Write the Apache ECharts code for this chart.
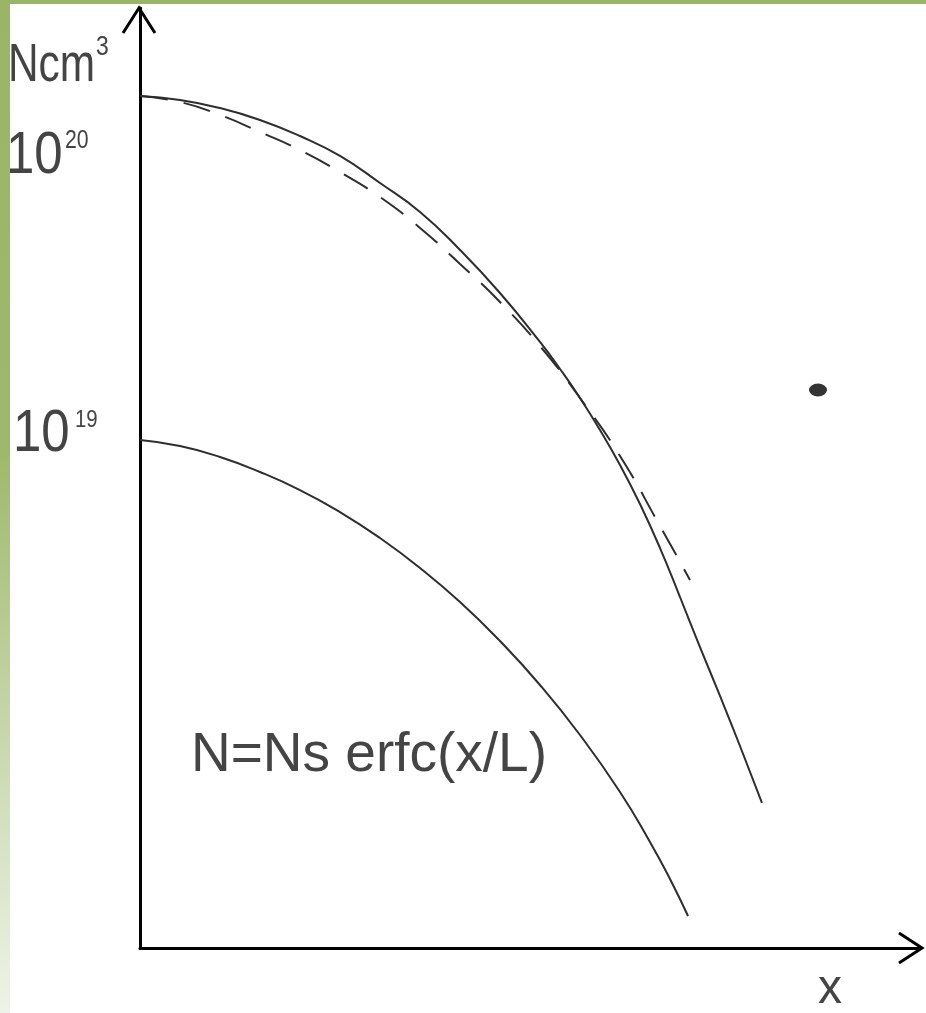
<!DOCTYPE html>
<html>
<head>
<meta charset="utf-8">
<script src="https://cdn.jsdelivr.net/npm/echarts@6/dist/echarts.min.js"></script>
<style>
html,body{margin:0;padding:0;background:#fff;}
#chart{width:926px;height:1013px;}
</style>
</head>
<body>
<div id="chart"></div>
<script>
// Upper solid profile (x, N in arbitrary plot units)
var upperSolid = [
  [0,90.64],[5.13,90.21],[10.26,89.36],[15.38,88.09],[20.51,86.38],[25.64,84.26],
  [30.77,81.38],[35.90,78.30],[41.03,74.26],[46.15,69.68],[51.28,64.47],[53.85,61.60],
  [56.41,58.51],[58.97,55.11],[61.54,51.38],[64.10,47.23],[66.67,42.55],[69.23,37.34],
  [71.79,32.02],[74.36,26.81],[76.92,21.49],[79.74,15.43]
];
// Upper dashed profile
var upperDashed = [
  [0,90.64],[5.13,90.0],[10.26,88.62],[15.38,86.81],[20.51,84.89],[25.64,82.55],
  [30.77,79.89],[35.90,76.60],[41.03,72.77],[46.15,68.72],[51.28,64.04],[56.41,58.51],
  [61.54,52.34],[66.67,44.89],[70.51,39.15]
];
// Lower solid profile
var lowerSolid = [
  [0,54.04],[5.13,53.40],[10.26,52.23],[15.38,50.64],[20.51,48.72],[25.64,46.38],
  [30.77,43.62],[35.90,40.43],[41.03,36.81],[46.15,32.66],[51.28,27.98],[56.41,22.66],
  [61.54,16.60],[65.38,11.28],[67.95,7.34],[70.26,3.40]
];
// Stray dot
var strayDot = [[86.92,59.36]];

var yLabelTop = '10', yLabelTopExp = '20';
var yLabelLow = '10', yLabelLowExp = '19';
var yTitle = 'Ncm', yTitleExp = '3';
var xTitle = 'x';
var formula = 'N=Ns erfc(x/L)';

var chart = echarts.init(document.getElementById('chart'), null, {renderer:'canvas'});
var txtColor = '#444444';
var ff = '"Liberation Sans", Arial, sans-serif';
var lineColor = '#2e2e2e';

function txt(x, y, s, size, sx, align) {
  return {
    type:'text', x:x, y:y, scaleX:sx||1, z:10,
    style:{ text:s, font: size + 'px ' + ff, fill: txtColor,
            textAlign: align||'left', textVerticalAlign:'middle' }
  };
}

chart.setOption({
  animation:false,
  backgroundColor:'#ffffff',
  grid:{left:140, top:8, width:780, height:940, containLabel:false},
  xAxis:{type:'value', min:0, max:100,
    axisLine:{show:true, lineStyle:{color:'#000', width:3}},
    axisTick:{show:false}, axisLabel:{show:false}, splitLine:{show:false}},
  yAxis:{type:'value', min:0, max:100,
    axisLine:{show:true, lineStyle:{color:'#000', width:3}},
    axisTick:{show:false}, axisLabel:{show:false}, splitLine:{show:false}},
  series:[
    {type:'line', data:upperSolid, smooth:0.5, showSymbol:false,
     lineStyle:{color:lineColor, width:2}},
    {type:'line', data:upperDashed, smooth:0.5, showSymbol:false,
     lineStyle:{color:lineColor, width:2, type:[28,16]}},
    {type:'line', data:lowerSolid, smooth:0.5, showSymbol:false,
     lineStyle:{color:lineColor, width:2}},
    {type:'scatter', data:strayDot, symbol:'circle', symbolSize:[18,13],
     itemStyle:{color:'#000'}}
  ],
  graphic:[
    {type:'rect', shape:{x:0,y:0,width:10,height:1013}, z:20,
     style:{fill:new echarts.graphic.LinearGradient(0,0,0,1,[
       {offset:0,color:'#9bb567'},{offset:0.45,color:'#9fb96c'},
       {offset:0.75,color:'#cbdab2'},{offset:1,color:'#eff3e7'}])}},
    {type:'rect', shape:{x:0,y:0,width:926,height:4}, z:20, style:{fill:'#9bb567'}},
    {type:'polyline', shape:{points:[[123,33],[139,8],[155,33]]}, z:10,
     style:{stroke:'#000', lineWidth:3, fill:null}},
    {type:'polyline', shape:{points:[[899,933],[922,948],[899,963]]}, z:10,
     style:{stroke:'#000', lineWidth:3, fill:null}},
    txt(8, 66, yTitle, 53, 0.8),
    txt(96, 48, yTitleExp, 27, 0.85),
    txt(6, 156, yLabelTop, 60, 0.85),
    txt(65, 141, yLabelTopExp, 25, 0.85),
    txt(13, 434, yLabelLow, 60, 0.85),
    txt(75, 420, yLabelLowExp, 24, 0.85),
    txt(818, 990, xTitle, 48, 1),
    txt(191, 756, formula, 55, 1)
  ]
});
</script>
</body>
</html>
